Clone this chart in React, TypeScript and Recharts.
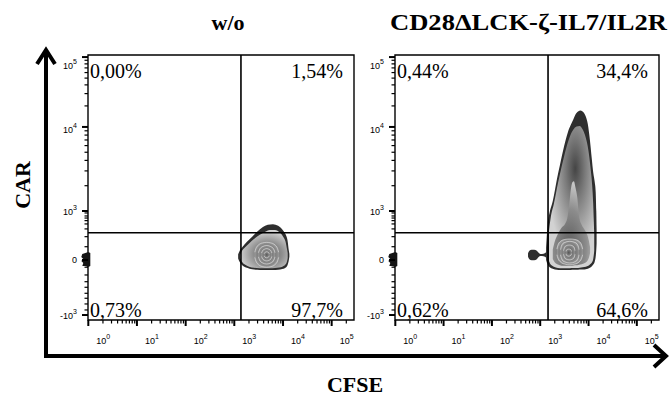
import React from 'react';
import { ComposedChart, XAxis, YAxis, Area, ReferenceLine, ReferenceArea, Scatter } from 'recharts';

type Pt = [number, number, number]; // [x channel, low channel, high channel]

// ---------- text ----------
const panelTitles = ['w/o', 'CD28\u0394LCK-\u03B6-IL7/IL2R'];
const xAxisTitle = 'CFSE';
const yAxisTitle = 'CAR';
const quadrantPct = [
  ['0,00%', '1,54%', '0,73%', '97,7%'],
  ['0,44%', '34,4%', '0,62%', '64,6%'],
];

// ---------- axes (display channels 0-256) ----------
const xDecades = [0.3, 47.1, 94, 140.8, 187.7, 234.5];
const xDecadeExp = ['0', '1', '2', '3', '4', '5'];
const yMajor = [4.8, 58, 105.3, 186.5, 254];
const yMajorBase = ['-10', '0', '10', '10', '10'];
const yMajorExp = ['3', '', '3', '4', '5'];
const yLinearMinor = [103.4, 100.5, 98.5, 96, 92.8, 88, 80.5, 70.8, 51, 43.5, 37, 31.6, 25.8, 21, 15.5, 9.7];
const yLogDecades = [105.3, 186.5, 254];

// ---------- gates ----------
const gateX = [147.2, 148.4];
const gateY = [84.3, 84.3];

// ---------- contour levels: w/o ----------
const woOuter: Pt[] = [
  [144.5, 59.5, 63.5], [146, 56, 67], [149, 52.5, 71], [153, 50.5, 75.5], [158, 49, 80.5],
  [163, 48.5, 85.5], [168, 48.3, 89.5], [173, 48.3, 92], [178, 48.3, 92.5], [183, 48.5, 91],
  [187, 49.2, 87.5], [190, 50.5, 83], [192, 53, 77], [193.3, 58, 67], [193.8, 61, 64],
];
const woBody: Pt[] = [
  [146.3, 60, 63], [148, 56.5, 66.5], [151, 53.5, 70], [155, 51.5, 74], [160, 50.5, 78.5],
  [165, 50, 82], [170, 50, 85], [175, 50, 87], [180, 50.3, 87], [184, 50.8, 85],
  [187.5, 51.8, 81], [190, 53.5, 76], [191.6, 57, 68], [192.2, 60, 64.5],
];
const woRingA: Pt[] = [
  [160.5, 60.5, 65.5], [161.5, 57, 69], [164, 53.5, 72.5], [168, 51.5, 74.5], [172, 51, 75],
  [176, 51.5, 74.5], [180, 53.5, 72.5], [182.5, 57, 69], [183.5, 60.5, 65.5],
];
const woRingB: Pt[] = [
  [164, 61, 65], [165, 58, 68], [167.5, 55.3, 70.7], [172, 54, 72], [176.5, 55.3, 70.7], [179, 58, 68], [180, 61, 65],
];
const woRingC: Pt[] = [
  [167, 61.3, 64.7], [168, 59, 67], [170, 57.5, 68.5], [172, 57, 69], [174, 57.5, 68.5], [176, 59, 67], [177, 61.3, 64.7],
];
const woRingD: Pt[] = [
  [169.5, 62, 64], [170.3, 60.7, 65.3], [172, 60, 66], [173.7, 60.7, 65.3], [174.5, 62, 64],
];

// ---------- contour levels: CAR ----------
const carOuter: Pt[] = [
  [146.5, 58, 70], [148, 53.5, 92], [150, 51, 104], [153, 49.5, 115], [157, 48.5, 136],
  [160, 48.3, 150], [164, 48.3, 168], [167.5, 48.3, 181], [170.5, 48.3, 188.5], [173, 48.5, 194],
  [175, 48.5, 198.5], [177.5, 48.5, 201.5], [180, 48.7, 202.5], [182.5, 48.8, 201], [185, 49, 196.5],
  [187, 49.5, 189], [189, 50.5, 174], [190.7, 51.8, 157], [192.3, 53.5, 142], [193.7, 56.5, 133],
  [194.6, 61, 124], [195.2, 68, 105], [195.5, 74, 88],
];
const carSatellite: Pt[] = [
  [129, 61, 64.5], [130.3, 58.7, 66.8], [132.5, 57.8, 67.8], [135, 57.8, 67.8], [137.5, 58.7, 66.8],
  [139.3, 60.8, 65], [141, 61.8, 63.8], [144, 61.6, 64], [147, 60, 66],
];
const carBody: Pt[] = [
  [149.3, 57, 86], [151, 53.5, 99], [154, 51.5, 112], [158, 50.3, 132], [162, 50, 150],
  [166, 50, 166], [169.5, 50, 177], [173, 50.2, 184], [176, 50.3, 187], [179, 50.5, 187.5],
  [182, 51, 184], [185, 51.5, 176], [187.5, 52.5, 164], [189.5, 54, 148], [191.2, 56, 130],
  [192.2, 59, 112], [192.8, 63, 95], [193.2, 67, 82],
];
const carFinger: Pt[] = [
  [153, 59, 68], [155, 55.5, 76], [158, 53.5, 83], [161.5, 52.5, 89], [165, 52.3, 93],
  [167, 52.3, 98], [169, 52.3, 112], [170.5, 52.5, 126], [172, 52.5, 133], [173.5, 52.7, 134],
  [175, 52.8, 128], [176.8, 53, 118], [178.5, 53.3, 100], [181, 53.8, 92], [184, 55, 87],
  [186.5, 57, 82], [188.3, 61, 75], [189.2, 65, 70],
];
const carRingA: Pt[] = [
  [157, 63, 68.5], [158, 59.5, 72.5], [160.5, 56, 76], [164.5, 54, 77.8], [169.5, 53.3, 78.3],
  [174.5, 54, 77.8], [178.5, 56, 76], [181, 59.5, 72.5], [182, 63, 68.5],
];
const carRingB: Pt[] = [
  [160.5, 63, 68], [161.5, 59, 72], [164, 56.3, 74.8], [169.5, 55, 76], [175, 56.3, 74.8], [177.5, 59, 72], [178.5, 63, 68],
];
const carRingC: Pt[] = [
  [163.4, 63.5, 67], [164.3, 60.3, 70.2], [166, 58.7, 71.8], [169, 58, 72.5], [172, 58.7, 71.8], [173.7, 60.3, 70.2], [174.6, 63.5, 67],
];
const carRingD: Pt[] = [
  [165.8, 64, 66.2], [166.5, 62.3, 67.9], [168.5, 61.6, 68.6], [170.5, 62.3, 67.9], [171.2, 64, 66.2],
];

// events piled on the Y axis near zero
const axisPile = [{ x: 0.3, y: 59 }];

// ---------- helpers ----------
const LOG_K = [2, 3, 4, 5, 6, 7, 8, 9];
function logMinor(decades: number[], max: number): number[] {
  const out: number[] = [];
  decades.forEach((d0, i) => {
    const step = i + 1 < decades.length ? decades[i + 1] - d0 : d0 - decades[i - 1];
    LOG_K.forEach((k) => {
      const v = d0 + step * Math.log10(k);
      if (v <= max) out.push(Math.round(v * 100) / 100);
    });
  });
  return out;
}
const xMinor = logMinor(xDecades, 256);
const yMinor = [...yLinearMinor, ...logMinor(yLogDecades, 256)];

// tick marks placed through the axis scales
const xTickMarks = [
  ...xDecades.map((v) => ({ x: v, y: 0, major: 1 })),
  ...xMinor.map((v) => ({ x: v, y: 0, major: 0 })),
];
const yTickMarks = [
  ...yMajor.map((v) => ({ x: 0, y: v, major: 1 })),
  ...yMinor.map((v) => ({ x: 0, y: v, major: 0 })),
];

const toData = (pts: Pt[]) => pts.map(([x, lo, hi]) => ({ x, r: [lo, hi] }));

const TICK_FONT = '"Liberation Sans", Arial, sans-serif';
const SERIF = '"Liberation Serif", "Times New Roman", serif';
const yLabelDy = [0, 0, 1, 3, 8];

const XLabel = (props: any) => {
  const { x, y, payload } = props;
  const i = xDecades.indexOf(payload.value);
  if (i < 0) return <g />;
  return (
    <text x={x + 8} y={y + 24} fontSize={9} fontFamily={TICK_FONT} fill="#000">
      10<tspan dy={-5} fontSize={7}>{xDecadeExp[i]}</tspan>
    </text>
  );
};

const YLabel = (props: any) => {
  const { x, y, payload } = props;
  const i = yMajor.indexOf(payload.value);
  if (i < 0) return <g />;
  return (
    <text x={x - 11} y={y + 3.5 + yLabelDy[i]} fontSize={9} fontFamily={TICK_FONT} fill="#000" textAnchor="end">
      {yMajorBase[i]}
      {yMajorExp[i] && <tspan dy={-5} fontSize={7}>{yMajorExp[i]}</tspan>}
    </text>
  );
};

type Level = { pts: Pt[]; fill: string; stroke?: string; sw?: number };

function Panel(props: {
  id: string; left: number; width: number; marginLeft: number; marginRight: number;
  levels: Level[]; gx: number; gy: number; defs: React.ReactNode;
}) {
  const { id, left, width, marginLeft, marginRight, levels, gx, gy, defs } = props;
  return (
    <div style={{ position: 'absolute', left, top: 0 }}>
      <ComposedChart width={width} height={398} margin={{ top: 55, right: marginRight, bottom: 48, left: marginLeft }}>
        <defs>{defs}</defs>
        <XAxis
          type="number" dataKey="x" domain={[0, 256]} ticks={xDecades} interval={0}
          tick={<XLabel />} tickLine={false} axisLine={false} tickSize={0} tickMargin={0} height={30}
        />
        <YAxis
          type="number" domain={[0, 256]} ticks={yMajor} interval={0}
          tick={<YLabel />} tickLine={false} axisLine={false} tickSize={0} tickMargin={0} width={40}
        />
        {levels.map((lv, k) => (
          <Area
            key={id + k}
            data={toData(lv.pts)}
            dataKey="r"
            type="monotone"
            fill={lv.fill}
            fillOpacity={1}
            stroke={lv.stroke || 'none'}
            strokeWidth={lv.sw || 0}
            dot={false}
            activeDot={false}
            isAnimationActive={false}
          />
        ))}
        <Scatter
          data={axisPile}
          dataKey="y"
          isAnimationActive={false}
          shape={(p: any) => (
            <path
              d={`M${p.cx - 6},${p.cy - 5} l3,-1 l3,-1 l2,1 l0,13 l-2,1 l-3,-1 l-3,0 l1,-3 l-2,-2 l2,-2 l-2,-2 z`}
              fill="#151515"
            />
          )}
        />
        <Scatter
          data={xTickMarks}
          dataKey="y"
          isAnimationActive={false}
          shape={(p: any) => {
            const major = p.payload && p.payload.major;
            const w = major ? 2 : 1.2;
            const h = major ? 6 : 3.5;
            return <path d={`M${p.cx - w / 2},${p.cy} h${w} v${h} h${-w} z`} fill="#000" />;
          }}
        />
        <Scatter
          data={yTickMarks}
          dataKey="y"
          isAnimationActive={false}
          shape={(p: any) => {
            const major = p.payload && p.payload.major;
            const w = major ? 2 : 1.2;
            const h = major ? 6 : 3.5;
            return <path d={`M${p.cx},${p.cy - w / 2} v${w} h${-h} v${-w} z`} fill="#000" />;
          }}
        />
        <ReferenceLine x={gx} stroke="#000" strokeWidth={1.6} />
        <ReferenceLine y={gy} stroke="#000" strokeWidth={1.6} />
        <ReferenceArea x1={0} x2={256} y1={0} y2={256} fill="none" stroke="#000" strokeWidth={1.4} fillOpacity={0} />
      </ComposedChart>
    </div>
  );
}

const radial = (id: string, cx: number, cy: number, r: number, stops: [number, string][]) => (
  <radialGradient id={id} cx={cx} cy={cy} r={r} key={id}>
    {stops.map(([o, c], i) => <stop key={i} offset={o} stopColor={c} />)}
  </radialGradient>
);

export default function App() {
  const woLevels: Level[] = [
    { pts: woOuter, fill: '#2e2e2e' },
    { pts: woBody, fill: 'url(#woBodyG)' },
    { pts: woRingA, fill: 'url(#woRingG)', stroke: '#f2f2f2', sw: 0.5 },
    { pts: woRingB, fill: 'url(#woRingG)', stroke: '#f2f2f2', sw: 0.5 },
    { pts: woRingC, fill: 'url(#woRingG)', stroke: '#f2f2f2', sw: 0.5 },
    { pts: woRingD, fill: 'url(#woRingG)', stroke: '#f2f2f2', sw: 0.5 },
  ];
  const carLevels: Level[] = [
    { pts: carSatellite, fill: '#2e2e2e' },
    { pts: carOuter, fill: '#2e2e2e' },
    { pts: carBody, fill: 'url(#carBodyG)' },
    { pts: carFinger, fill: 'url(#carFingerG)' },
    { pts: carRingA, fill: 'url(#carRingG)', stroke: '#f2f2f2', sw: 0.5 },
    { pts: carRingB, fill: 'url(#carRingG)', stroke: '#f2f2f2', sw: 0.5 },
    { pts: carRingC, fill: 'url(#carRingG)', stroke: '#f2f2f2', sw: 0.5 },
    { pts: carRingD, fill: 'url(#carRingG)', stroke: '#f2f2f2', sw: 0.5 },
  ];
  const woDefs = [
    radial('woBodyG', 0.58, 0.62, 0.6, [[0, '#5e5e5e'], [0.5, '#8e8e8e'], [1, '#d4d4d4']]),
    radial('woRingG', 0.5, 0.5, 0.6, [[0, '#5a5a5a'], [0.75, '#8a8a8a'], [1, '#c4c4c4']]),
  ];
  const carDefs = [
    radial('carBodyG', 0.58, 0.3, 0.62, [[0, '#454545'], [0.35, '#7a7a7a'], [1, '#d2d2d2']]),
    radial('carFingerG', 0.45, 0.78, 0.75, [[0, '#5c5c5c'], [0.6, '#8c8c8c'], [1, '#c6c6c6']]),
    radial('carRingG', 0.5, 0.5, 0.6, [[0, '#555'], [0.75, '#888'], [1, '#c2c2c2']]),
  ];

  const pctStyle = { fontFamily: SERIF, fontSize: 20, fill: '#000' } as const;
  const boxes = [
    { l: 88, r: 354 },
    { l: 395, r: 659 },
  ];

  return (
    <div style={{ position: 'absolute', left: 0, top: 0, width: 670, height: 398, background: '#fff', overflow: 'hidden' }}>
      <Panel id="wo" left={0} width={360} marginLeft={48} marginRight={6} levels={woLevels} gx={gateX[0]} gy={gateY[0]} defs={woDefs} />
      <Panel id="car" left={355} width={315} marginLeft={0} marginRight={11} levels={carLevels} gx={gateX[1]} gy={gateY[1]} defs={carDefs} />
      <svg width={670} height={398} style={{ position: 'absolute', left: 0, top: 0, pointerEvents: 'none' }}>
        <text x={228} y={30} textAnchor="middle" fontFamily={SERIF} fontWeight="bold" fontSize={22}>{panelTitles[0]}</text>
        <text x={390} y={30} fontFamily={SERIF} fontWeight="bold" fontSize={23} textLength={277} lengthAdjust="spacingAndGlyphs">{panelTitles[1]}</text>
        {boxes.map((b, i) => (
          <g key={i}>
            <text x={b.l + 2} y={78} {...pctStyle}>{quadrantPct[i][0]}</text>
            <text x={b.r - 11} y={78} textAnchor="end" {...pctStyle}>{quadrantPct[i][1]}</text>
            <text x={b.l + 2} y={317} {...pctStyle}>{quadrantPct[i][2]}</text>
            <text x={b.r - 11} y={317} textAnchor="end" {...pctStyle}>{quadrantPct[i][3]}</text>
          </g>
        ))}
        <line x1={46} y1={51} x2={46} y2={358} stroke="#000" strokeWidth={4} />
        <polyline points="37,64 46,50 55,64" fill="none" stroke="#000" strokeWidth={4} />
        <line x1={44} y1={356} x2={665} y2={356} stroke="#000" strokeWidth={4} />
        <polyline points="654,345 666,356 654,367" fill="none" stroke="#000" strokeWidth={4} />
        <text x={22} y={185} transform="rotate(-90 22 185)" textAnchor="middle" dominantBaseline="central" fontFamily={SERIF} fontWeight="bold" fontSize={22}>{yAxisTitle}</text>
        <text x={355} y={392} textAnchor="middle" fontFamily={SERIF} fontWeight="bold" fontSize={22}>{xAxisTitle}</text>
      </svg>
    </div>
  );
}
